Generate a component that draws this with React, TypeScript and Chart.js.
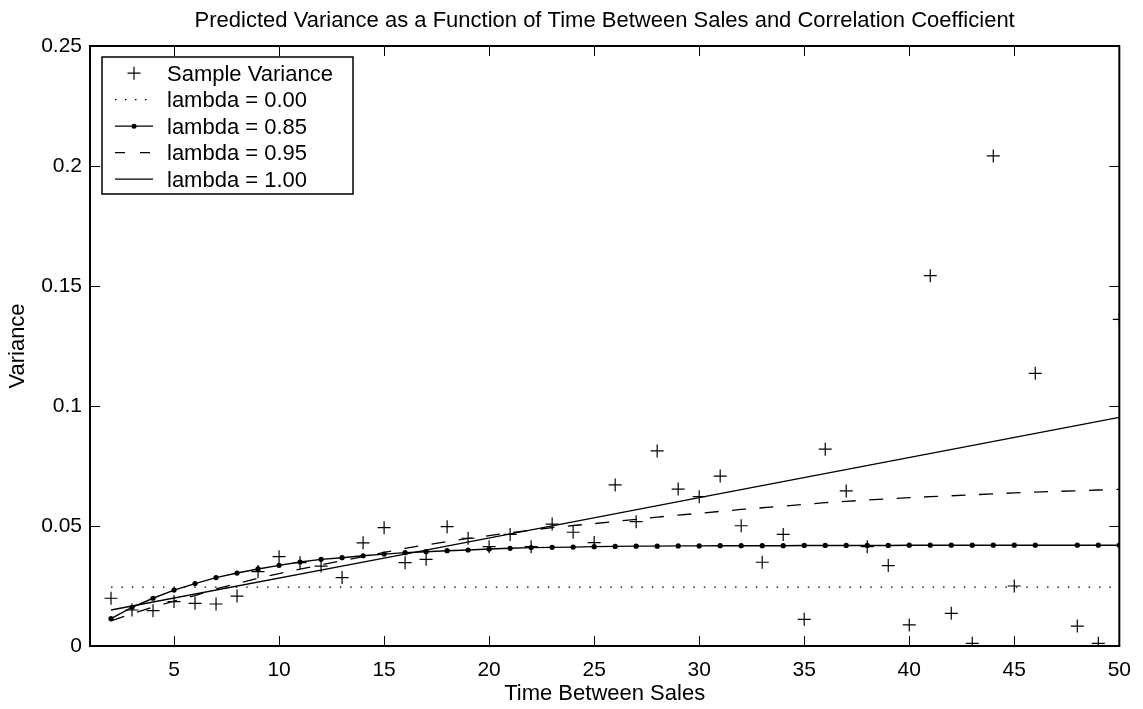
import { useEffect, useRef } from "react";
import { Chart, registerables } from "chart.js";

Chart.register(...registerables);

const FONT = "'Liberation Sans', Arial, Helvetica, sans-serif";

const TITLE = "Predicted Variance as a Function of Time Between Sales and Correlation Coefficient";
const X_LABEL = "Time Between Sales";
const Y_LABEL = "Variance";

const xTicks = [5, 10, 15, 20, 25, 30, 35, 40, 45, 50];
const yTicks = [0, 0.05, 0.1, 0.15, 0.2, 0.25];
const yTickLabels = ["0", "0.05", "0.1", "0.15", "0.2", "0.25"];

const legendLabels = [
  "Sample Variance",
  "lambda = 0.00",
  "lambda = 0.85",
  "lambda = 0.95",
  "lambda = 1.00",
];

// time between sales (x = 47 is absent in the source)
const times = [
  2, 3, 4, 5, 6, 7, 8, 9, 10, 11, 12, 13, 14, 15, 16, 17, 18, 19, 20, 21, 22, 23, 24, 25, 26,
  27, 28, 29, 30, 31, 32, 33, 34, 35, 36, 37, 38, 39, 40, 41, 42, 43, 44, 45, 46, 48, 49, 50,
];

const sampleVariance = [
  0.0199, 0.015, 0.0147, 0.0185, 0.0178, 0.0175, 0.0208, 0.031, 0.0372, 0.0347, 0.0333, 0.0285,
  0.043, 0.0493, 0.0347, 0.0361, 0.0497, 0.0449, 0.0414, 0.0465, 0.0414, 0.0508, 0.0474, 0.0431,
  0.0671, 0.0518, 0.0813, 0.0654, 0.0622, 0.0708, 0.0501, 0.0349, 0.0465, 0.0111, 0.082, 0.0646,
  0.0414, 0.0335, 0.0088, 0.1543, 0.0136, 0.0011, 0.2042, 0.025, 0.1136, 0.0083, 0.0011, 0.1361,
];

const lambda085 = [
  0.0114, 0.0161, 0.0199, 0.0233, 0.026, 0.0285, 0.0304, 0.0321, 0.0336, 0.035, 0.0361, 0.0368,
  0.0376, 0.0383, 0.0389, 0.0393, 0.0397, 0.04, 0.0404, 0.0407, 0.041, 0.0411, 0.0412, 0.0414,
  0.0415, 0.0416, 0.0416, 0.0417, 0.0417, 0.0418, 0.0418, 0.0418, 0.0418, 0.0419, 0.0419, 0.0419,
  0.0419, 0.0419, 0.042, 0.042, 0.042, 0.042, 0.042, 0.042, 0.042, 0.042, 0.042, 0.042,
];

const lambda095 = [
  0.0105, 0.0135, 0.0162, 0.0187, 0.021, 0.0238, 0.026, 0.0282, 0.0302, 0.032, 0.0338, 0.0356,
  0.0372, 0.039, 0.0407, 0.0421, 0.0435, 0.0448, 0.046, 0.0472, 0.0483, 0.0493, 0.0502, 0.051,
  0.0519, 0.0528, 0.0537, 0.0545, 0.0553, 0.0561, 0.0569, 0.0576, 0.0583, 0.059, 0.0597, 0.0603,
  0.0608, 0.0613, 0.0618, 0.0622, 0.0626, 0.063, 0.0634, 0.0638, 0.0641, 0.0647, 0.065, 0.0653,
];

const lambda000Times = [2, 50];
const lambda000 = [0.0245, 0.0245];

const lambda100Times = [2, 16, 30, 50];
const lambda100 = [0.015, 0.0383, 0.0618, 0.0953];

const pts = (xs: number[], ys: number[]) => xs.map((x, i) => ({ x, y: ys[i] }));

const decorPlugin = {
  id: "decor",
  afterDraw(chart: any) {
    const ctx: CanvasRenderingContext2D = chart.ctx;
    const { left, right, top, bottom } = chart.chartArea;
    const xs = chart.scales.x;
    const ys = chart.scales.y;
    ctx.save();
    ctx.strokeStyle = "#000";
    ctx.fillStyle = "#000";

    // inward ticks on all four sides
    ctx.lineWidth = 1;
    const TL = 10;
    ctx.beginPath();
    xTicks.forEach((v) => {
      const px = Math.round(xs.getPixelForValue(v)) + 0.5;
      ctx.moveTo(px, bottom);
      ctx.lineTo(px, bottom - TL);
      ctx.moveTo(px, top);
      ctx.lineTo(px, top + TL);
    });
    yTicks.forEach((v) => {
      const py = Math.round(ys.getPixelForValue(v)) + 0.5;
      ctx.moveTo(left, py);
      ctx.lineTo(left + TL, py);
      ctx.moveTo(right, py);
      ctx.lineTo(right - TL, py);
    });
    ctx.stroke();

    // frame
    ctx.lineWidth = 2;
    ctx.strokeRect(left, top, right - left, bottom - top);

    // title
    ctx.font = `22px ${FONT}`;
    ctx.textAlign = "center";
    ctx.textBaseline = "alphabetic";
    ctx.fillText(TITLE, (left + right) / 2, 27);

    // legend
    const bx = 102, by = 57, bw = 251, bh = 137;
    ctx.fillStyle = "#fff";
    ctx.fillRect(bx, by, bw, bh);
    ctx.lineWidth = 1.5;
    ctx.strokeStyle = "#000";
    ctx.strokeRect(bx, by, bw, bh);
    ctx.fillStyle = "#000";
    ctx.textAlign = "left";
    ctx.font = `22px ${FONT}`;
    const x0 = 115, x1 = 153, xm = 134;
    legendLabels.forEach((label, i) => {
      const base = 80.7 + i * 26.5;
      const cy = base - 7.5;
      ctx.fillText(label, 167, base);
      ctx.beginPath();
      ctx.lineWidth = i === 0 ? 1.2 : 1.3;
      if (i === 0) {
        ctx.setLineDash([]);
        ctx.moveTo(xm - 6.5, cy);
        ctx.lineTo(xm + 6.5, cy);
        ctx.moveTo(xm, cy - 6.5);
        ctx.lineTo(xm, cy + 6.5);
      } else {
        ctx.setLineDash(i === 1 ? [1.5, 8.5] : i === 3 ? [10, 15] : []);
        ctx.moveTo(x0, cy);
        ctx.lineTo(x1, cy);
      }
      ctx.stroke();
      ctx.setLineDash([]);
      if (i === 2) {
        ctx.beginPath();
        ctx.arc(xm, cy, 2.5, 0, Math.PI * 2);
        ctx.fill();
      }
    });
    ctx.restore();
  },
};

export default function App() {
  const ref = useRef<HTMLCanvasElement | null>(null);

  useEffect(() => {
    if (!ref.current) return;
    const chart = new Chart(ref.current, {
      type: "scatter",
      data: {
        datasets: [
          {
            label: legendLabels[0],
            data: pts(times, sampleVariance),
            showLine: false,
            pointStyle: "cross",
            pointRadius: 6.5,
            pointBorderWidth: 1.2,
            borderColor: "#000",
            backgroundColor: "#000",
          },
          {
            label: legendLabels[1],
            data: pts(lambda000Times, lambda000),
            showLine: true,
            borderColor: "#000",
            borderWidth: 1.3,
            borderDash: [1.5, 8.9],
            pointRadius: 0,
          },
          {
            label: legendLabels[2],
            data: pts(times, lambda085),
            showLine: true,
            borderColor: "#000",
            backgroundColor: "#000",
            borderWidth: 1.4,
            pointStyle: "circle",
            pointRadius: 2.6,
            pointBorderWidth: 0,
          },
          {
            label: legendLabels[3],
            data: pts(times, lambda095),
            showLine: true,
            borderColor: "#000",
            borderWidth: 1.3,
            borderDash: [14, 13.5],
            pointRadius: 0,
          },
          {
            label: legendLabels[4],
            data: pts(lambda100Times, lambda100),
            showLine: true,
            borderColor: "#000",
            borderWidth: 1.3,
            pointRadius: 0,
          },
        ],
      },
      options: {
        animation: false,
        responsive: false,
        layout: { padding: { top: 46, right: 21, bottom: 0, left: 0 } },
        plugins: {
          legend: { display: false },
          title: { display: false },
          tooltip: { enabled: false },
        },
        scales: {
          x: {
            type: "linear",
            min: 1,
            max: 50,
            grid: { display: false, drawTicks: false },
            border: { display: false },
            afterBuildTicks: (s: any) => {
              s.ticks = xTicks.map((v) => ({ value: v }));
            },
            afterFit: (s: any) => {
              s.height = 63;
            },
            ticks: {
              color: "#000",
              font: { size: 21, family: FONT },
              padding: 12,
              maxRotation: 0,
              callback: (v: any) => String(v),
            },
            title: {
              display: true,
              text: X_LABEL,
              color: "#000",
              font: { size: 22, family: FONT },
              padding: { top: 0, bottom: 1.8 },
            },
          },
          y: {
            type: "linear",
            min: 0,
            max: 0.25,
            grid: { display: false, drawTicks: false },
            border: { display: false },
            afterBuildTicks: (s: any) => {
              s.ticks = yTicks.map((v) => ({ value: v }));
            },
            afterFit: (s: any) => {
              s.width = 90;
            },
            ticks: {
              color: "#000",
              font: { size: 21, family: FONT },
              padding: 8,
              callback: (v: any) => {
                const i = yTicks.findIndex((t) => Math.abs(t - Number(v)) < 1e-9);
                return i >= 0 ? yTickLabels[i] : "";
              },
            },
            title: {
              display: true,
              text: Y_LABEL,
              color: "#000",
              font: { size: 22, family: FONT },
              padding: { top: 4.6, bottom: 0 },
            },
          },
        },
      },
      plugins: [decorPlugin],
    });
    return () => chart.destroy();
  }, []);

  return (
    <div style={{ position: "absolute", left: 0, top: 0, width: 1143, height: 709, background: "#fff" }}>
      <canvas ref={ref} width={1143} height={709} style={{ display: "block" }} />
    </div>
  );
}
